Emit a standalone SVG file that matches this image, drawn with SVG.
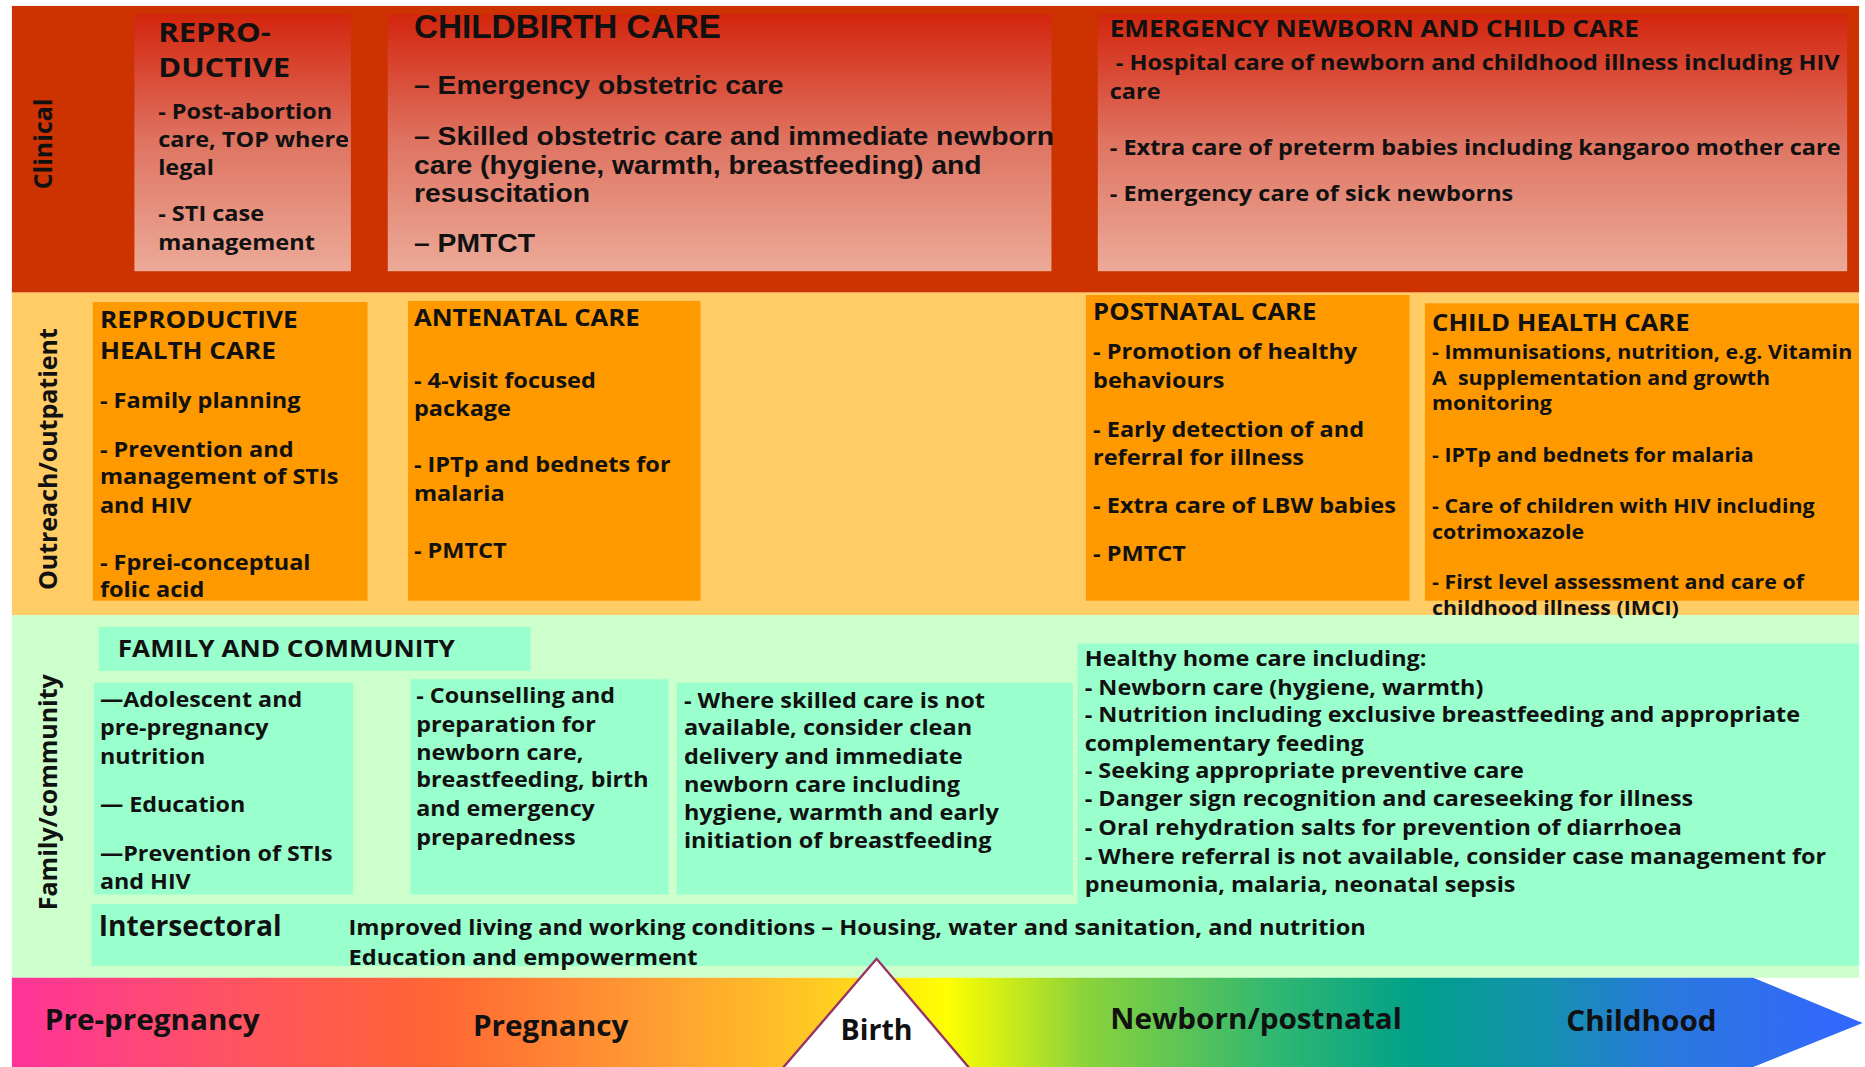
<svg xmlns="http://www.w3.org/2000/svg" width="1865" height="1067" viewBox="0 0 1865 1067">
<defs>
<linearGradient id="redBox" x1="0" y1="0" x2="0" y2="1">
<stop offset="0" stop-color="#D3250E"/>
<stop offset="0.5" stop-color="#DF7462"/>
<stop offset="1" stop-color="#ECAA98"/>
</linearGradient>
<linearGradient id="timeline" gradientUnits="userSpaceOnUse" x1="10" y1="0" x2="1565" y2="0">
<stop offset="0" stop-color="#FF3399"/>
<stop offset="0.1" stop-color="#FF4F6A"/>
<stop offset="0.23" stop-color="#FF6633"/>
<stop offset="0.34" stop-color="#FF9933"/>
<stop offset="0.44" stop-color="#FFCC22"/>
<stop offset="0.505" stop-color="#FFFF00"/>
<stop offset="0.58" stop-color="#8BD33A"/>
<stop offset="0.68" stop-color="#33B870"/>
<stop offset="0.76" stop-color="#00A08A"/>
<stop offset="0.83" stop-color="#1490B0"/>
<stop offset="0.9" stop-color="#2B77E0"/>
<stop offset="1" stop-color="#3366FF"/>
</linearGradient>
<style>
.t{font-family:"Open Sans","Liberation Sans",sans-serif;font-weight:700;fill:#111;}
.a{font-family:"Liberation Sans",Arial,sans-serif;font-weight:700;fill:#111;}
.side{font-family:"Open Sans","Liberation Sans",sans-serif;font-weight:700;fill:#111;font-size:21px;}
.h{font-size:20px;}
.b{font-size:17.5px;}
.c{font-size:16.1px;}
.big{font-size:24px;}
.red{fill:url(#redBox);}
.orange{fill:#FF9900;}
.mint{fill:#99FFCC;}
</style>
</defs>
<g transform="scale(1.18941 1.18952)">
<g id="bands">
<rect x="10" y="5" width="1553" height="241" fill="#CC3300"/>
<rect x="10" y="246" width="1553" height="271" fill="#FFCC66"/>
<rect x="10" y="517" width="1553" height="305" fill="#CCFFCC"/>
<text class="side" transform="translate(44 121) rotate(-90)" text-anchor="middle">Clinical</text>
<text class="side" transform="translate(48 386) rotate(-90)" text-anchor="middle">Outreach/outpatient</text>
<text class="side" transform="translate(48 666) rotate(-90)" text-anchor="middle">Family/community</text>
</g>
<g id="reproductive-clinical">
<rect class="red" x="113" y="12" width="182" height="216"/>
<text class="t" font-size="22.5" transform="translate(133 0) scale(1.16 1)"><tspan x="0" y="35">REPRO-</tspan><tspan x="0" y="65">DUCTIVE</tspan></text>
<text class="t b" transform="translate(133 0) scale(1.13 1)"><tspan x="0" y="100">- Post-abortion</tspan><tspan x="0" y="124">care, TOP where</tspan><tspan x="0" y="147">legal</tspan><tspan x="0" y="186">- STI case</tspan><tspan x="0" y="210">management</tspan></text>
</g>
<g id="childbirth-care">
<rect class="red" x="326" y="12" width="558" height="216"/>
<text class="a" font-size="28"><tspan x="348" y="32">CHILDBIRTH CARE</tspan></text>
<text class="a" font-size="22" transform="translate(348 0) scale(1.082 1)"><tspan x="0" y="79">– Emergency obstetric care</tspan><tspan x="0" y="122">– Skilled obstetric care and immediate newborn</tspan><tspan x="0" y="146">care (hygiene, warmth, breastfeeding) and</tspan><tspan x="0" y="170">resuscitation</tspan><tspan x="0" y="212">– PMTCT</tspan></text>
</g>
<g id="emergency-newborn">
<rect class="red" x="923" y="12" width="630" height="216"/>
<text class="t h" transform="translate(933 0) scale(1.1 1)"><tspan x="0" y="31">EMERGENCY NEWBORN AND CHILD CARE</tspan></text>
<text class="t b" transform="translate(933 0) scale(1.13 1)"><tspan x="0" y="59">&#160;- Hospital care of newborn and childhood illness including HIV</tspan><tspan x="0" y="83">care</tspan><tspan x="0" y="130">- Extra care of preterm babies including kangaroo mother care</tspan><tspan x="0" y="169">- Emergency care of sick newborns</tspan></text>
</g>
<g id="reproductive-health-care">
<rect class="orange" x="78" y="254" width="231" height="251"/>
<text class="t h" transform="translate(84 0) scale(1.1 1)"><tspan x="0" y="276">REPRODUCTIVE</tspan><tspan x="0" y="302">HEALTH CARE</tspan></text>
<text class="t b" transform="translate(84 0) scale(1.13 1)"><tspan x="0" y="343">- Family planning</tspan><tspan x="0" y="384">- Prevention and</tspan><tspan x="0" y="407">management of STIs</tspan><tspan x="0" y="431">and HIV</tspan><tspan x="0" y="479">- Fprei-conceptual</tspan><tspan x="0" y="502">folic acid</tspan></text>
</g>
<g id="antenatal-care">
<rect class="orange" x="343" y="253" width="246" height="252"/>
<text class="t h" transform="translate(348 0) scale(1.08 1)"><tspan x="0" y="274">ANTENATAL CARE</tspan></text>
<text class="t b" transform="translate(348 0) scale(1.13 1)"><tspan x="0" y="326">- 4-visit focused</tspan><tspan x="0" y="350">package</tspan><tspan x="0" y="397">- IPTp and bednets for</tspan><tspan x="0" y="421">malaria</tspan><tspan x="0" y="469">- PMTCT</tspan></text>
</g>
<g id="postnatal-care">
<rect class="orange" x="913" y="248" width="272" height="257"/>
<text class="t h" transform="translate(919 0) scale(1.08 1)"><tspan x="0" y="269">POSTNATAL CARE</tspan></text>
<text class="t b" transform="translate(919 0) scale(1.13 1)"><tspan x="0" y="302">- Promotion of healthy</tspan><tspan x="0" y="326">behaviours</tspan><tspan x="0" y="367">- Early detection of and</tspan><tspan x="0" y="391">referral for illness</tspan><tspan x="0" y="431">- Extra care of LBW babies</tspan><tspan x="0" y="472">- PMTCT</tspan></text>
</g>
<g id="child-health-care">
<rect class="orange" x="1198" y="255" width="365" height="250"/>
<text class="t h" transform="translate(1204 0) scale(1.08 1)"><tspan x="0" y="278">CHILD HEALTH CARE</tspan></text>
<text class="t c" transform="translate(1204 0) scale(1.117 1)"><tspan x="0" y="302">- Immunisations, nutrition, e.g. Vitamin</tspan><tspan x="0" y="323.5">A&#160; supplementation and growth</tspan><tspan x="0" y="345">monitoring</tspan><tspan x="0" y="388">- IPTp and bednets for malaria</tspan><tspan x="0" y="431">- Care of children with HIV including</tspan><tspan x="0" y="453">cotrimoxazole</tspan><tspan x="0" y="495.5">- First level assessment and care of</tspan><tspan x="0" y="517">childhood illness (IMCI)</tspan></text>
</g>
<g id="family-and-community">
<rect class="mint" x="83" y="527" width="363" height="37"/>
<text class="t h" transform="translate(99 0) scale(1.1 1)"><tspan x="0" y="552">FAMILY AND COMMUNITY</tspan></text>
</g>
<g id="pre-pregnancy-family">
<rect class="mint" x="79" y="574" width="218" height="178"/>
<text class="t b" transform="translate(84 0) scale(1.12 1)"><tspan x="0" y="594">—Adolescent and</tspan><tspan x="0" y="618">pre-pregnancy</tspan><tspan x="0" y="642">nutrition</tspan><tspan x="0" y="683">— Education</tspan><tspan x="0" y="724">—Prevention of STIs</tspan><tspan x="0" y="747">and HIV</tspan></text>
</g>
<g id="pregnancy-family">
<rect class="mint" x="345" y="571" width="217" height="181"/>
<text class="t b" transform="translate(350 0) scale(1.12 1)"><tspan x="0" y="591">- Counselling and</tspan><tspan x="0" y="615">preparation for</tspan><tspan x="0" y="639">newborn care,</tspan><tspan x="0" y="662">breastfeeding, birth</tspan><tspan x="0" y="686">and emergency</tspan><tspan x="0" y="710">preparedness</tspan></text>
</g>
<g id="birth-family">
<rect class="mint" x="569" y="574" width="333" height="178"/>
<text class="t b" transform="translate(575 0) scale(1.13 1)"><tspan x="0" y="595">- Where skilled care is not</tspan><tspan x="0" y="618">available, consider clean</tspan><tspan x="0" y="642">delivery and immediate</tspan><tspan x="0" y="666">newborn care including</tspan><tspan x="0" y="689">hygiene, warmth and early</tspan><tspan x="0" y="713">initiation of breastfeeding</tspan></text>
</g>
<g id="healthy-home-care">
<rect class="mint" x="906" y="541" width="657" height="220"/>
<text class="t b" transform="translate(912 0) scale(1.125 1)"><tspan x="0" y="560">Healthy home care including:</tspan><tspan x="0" y="584">- Newborn care (hygiene, warmth)</tspan><tspan x="0" y="607">- Nutrition including exclusive breastfeeding and appropriate</tspan><tspan x="0" y="631">complementary feeding</tspan><tspan x="0" y="654">- Seeking appropriate preventive care</tspan><tspan x="0" y="678">- Danger sign recognition and careseeking for illness</tspan><tspan x="0" y="702">- Oral rehydration salts for prevention of diarrhoea</tspan><tspan x="0" y="726">- Where referral is not available, consider case management for</tspan><tspan x="0" y="750">pneumonia, malaria, neonatal sepsis</tspan></text>
</g>
<g id="intersectoral">
<rect class="mint" x="77" y="760" width="1486" height="52"/>
<text class="t" font-size="23.7"><tspan x="83" y="787">Intersectoral</tspan></text>
<text class="t b" transform="translate(293 0) scale(1.135 1)"><tspan x="0" y="786">Improved living and working conditions – Housing, water and sanitation, and nutrition</tspan><tspan x="0" y="811">Education and empowerment</tspan></text>
</g>
<g id="timeline">
<polygon points="10,822 1474,822 1566,860 1474,897 10,897" fill="url(#timeline)"/>
<text class="t big" text-anchor="middle" transform="translate(128 0) scale(1.04 1)" x="0" y="866">Pre-pregnancy</text>
<text class="t big" text-anchor="middle" transform="translate(463 0) scale(1.04 1)" x="0" y="871">Pregnancy</text>
<text class="t big" text-anchor="middle" transform="translate(1056 0) scale(1.04 1)" x="0" y="865">Newborn/postnatal</text>
<text class="t big" text-anchor="middle" transform="translate(1380 0) scale(1.04 1)" x="0" y="867">Childhood</text>
</g>
<g id="birth">
<polygon points="658,898 737,806 815,898" fill="#FFFFFF" stroke="#993366" stroke-width="2"/>
<text class="t big" text-anchor="middle" x="737" y="874">Birth</text>
</g>
<g id="connectors"/>
</g>
</svg>
